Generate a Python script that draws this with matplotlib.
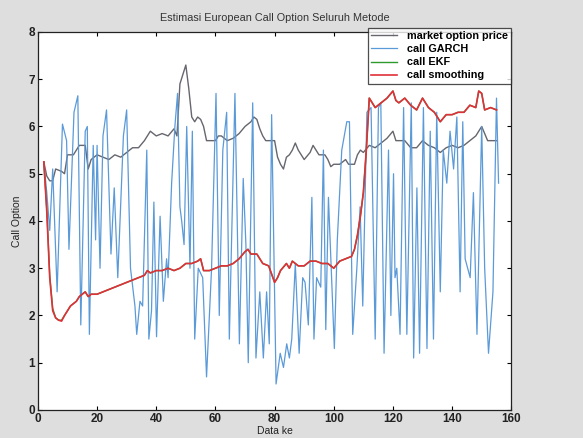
import matplotlib
matplotlib.use("Agg")
import matplotlib.pyplot as plt

plt.rcParams['font.family'] = ['Liberation Sans', 'DejaVu Sans']

# market option price
mkt_x = [2, 3, 4, 5, 6, 8, 9, 10, 12, 14, 16, 17, 18, 20, 22, 24, 26, 28, 30, 32, 34, 36, 38, 40,
         42, 44, 46, 47, 48, 49, 50, 51, 52, 53, 54, 55, 56, 57, 60, 61, 62, 64, 66, 68, 70, 72,
         73, 74, 75, 76, 77, 79, 80, 81, 82, 83, 84, 85, 86, 87, 88, 89, 90, 92, 93, 94, 95, 97,
         98, 99, 100, 102, 104, 105, 107, 108, 109, 110, 112, 114, 116, 118, 120, 121, 124, 126,
         128, 130, 132, 134, 136, 138, 140, 142, 144, 146, 148, 150, 151, 152, 155]
mkt_y = [5.25, 4.95, 4.85, 4.85, 5.1, 5.05, 5.0, 5.4, 5.4, 5.6, 5.6, 5.1, 5.3, 5.4, 5.35, 5.3,
         5.4, 5.35, 5.45, 5.55, 5.55, 5.7, 5.9, 5.8, 5.85, 5.8, 5.95, 5.8, 6.9, 7.1, 7.3, 6.8,
         6.2, 6.1, 6.2, 6.15, 6.0, 5.7, 5.7, 5.8, 5.8, 5.7, 5.75, 5.85, 6.0, 6.1, 6.2, 6.15,
         5.95, 5.8, 5.7, 5.7, 5.7, 5.35, 5.2, 5.1, 5.35, 5.4, 5.5, 5.65, 5.5, 5.4, 5.3, 5.45,
         5.6, 5.5, 5.4, 5.4, 5.3, 5.15, 5.2, 5.2, 5.3, 5.2, 5.2, 5.4, 5.5, 5.45, 5.6, 5.55,
         5.65, 5.75, 5.9, 5.7, 5.7, 5.55, 5.55, 5.7, 5.6, 5.55, 5.45, 5.55, 5.6, 5.55, 5.6,
         5.7, 5.8, 6.0, 5.85, 5.7, 5.7]

# call GARCH
garch_x = [2, 3, 4, 5, 6.5, 8.3, 9.7, 10.5, 12.2, 13.5, 14.5, 16, 16.7, 17.4, 18.7, 19.5, 20,
           21, 22, 23.2, 24.7, 25.8, 27, 28.9, 30, 31.3, 32.8, 33.4, 34.5, 35.4, 36.8, 37.5,
           38.4, 39.2, 40.1, 41.3, 42.4, 43.5, 44, 45.2, 46.3, 47.2, 48, 48.6, 49.4, 50.3, 51.4,
           52.2, 53, 54.2, 55.7, 57, 58.7, 60.2, 61.3, 62.5, 63.8, 64.7, 66.6, 68.1, 69.4, 70.3,
           71.1, 72.6, 73.7, 75, 76.2, 77.3, 78.2, 79, 80.5, 81.9, 83, 84.1, 85, 85.8, 87, 88.3,
           89.5, 90.3, 91.4, 92.6, 93.3, 94.2, 95.6, 96.5, 97.3, 98.2, 100.2, 101.2, 102.7,
           104.4, 105.3, 106.4, 107.8, 108.9, 109.8, 111.2, 112.6, 114, 115.1, 115.9, 117,
           118.5, 119.3, 120.2, 120.7, 121.3, 122.4, 123.6, 124.7, 126.2, 127, 128.1, 129,
           130.3, 131.5, 132.6, 133.7, 134.8, 136, 137, 138.2, 139.3, 140.5, 141.6, 142.7,
           143.6, 144.4, 146.1, 147.2, 148.4, 150, 151, 152.3, 153.8, 155, 155.7]
garch_y = [5.25, 4.6, 3.8, 5.1, 2.5, 6.05, 5.7, 3.4, 6.3, 6.65, 1.8, 5.9, 6.0, 1.6, 5.6, 3.6,
           5.6, 3.0, 5.8, 6.35, 3.3, 4.7, 2.8, 5.8, 6.35, 3.0, 2.2, 1.6, 2.3, 2.2, 5.5, 1.5,
           2.1, 4.4, 1.55, 4.1, 2.3, 3.2, 2.8, 4.8, 6.0, 6.7, 4.3, 4.0, 3.5, 6.0, 3.0, 5.9, 1.5,
           3.0, 2.8, 0.7, 3.0, 6.7, 2.0, 5.5, 6.3, 1.5, 6.7, 1.4, 4.9, 3.5, 1.0, 6.5, 1.1, 2.5,
           1.1, 2.5, 1.4, 6.25, 0.55, 1.2, 0.9, 1.4, 1.1, 1.5, 3.1, 1.2, 2.8, 2.7, 1.8, 4.5,
           1.5, 2.8, 2.6, 5.5, 1.7, 4.5, 1.3, 3.6, 5.5, 6.1, 6.1, 1.6, 3.0, 4.3, 2.2, 6.3, 6.4,
           1.5, 6.4, 6.5, 1.2, 5.5, 2.0, 5.0, 2.8, 3.0, 1.6, 6.4, 1.6, 6.5, 1.1, 4.7, 1.2, 6.4,
           1.3, 5.9, 1.5, 6.3, 2.5, 5.5, 4.8, 5.9, 5.1, 6.2, 2.5, 6.1, 3.2, 2.8, 4.6, 1.6, 6.0,
           3.0, 1.2, 2.5, 6.6, 4.8]

# call smoothing
smo_x = [2, 3, 4, 5, 6, 7, 8, 9, 10, 11, 12, 13, 14, 15, 16, 17, 18, 20, 22, 24, 26, 28, 30,
         32, 34, 36, 37, 38, 40, 42, 44, 46, 48, 50, 52, 54, 55, 56, 58, 60, 62, 64, 66, 68,
         70, 71, 72, 74, 76, 78, 80, 81, 82, 84, 85, 86, 88, 90, 92, 94, 96, 98, 100, 102, 104,
         106, 107, 108, 109, 110, 111, 112, 113, 114, 116, 118, 120, 121, 122, 124, 126, 128,
         130, 132, 134, 136, 138, 140, 142, 144, 146, 148, 149, 150, 151, 153, 155]
smo_y = [5.25, 4.2, 2.8, 2.1, 1.95, 1.9, 1.88, 2.0, 2.1, 2.2, 2.25, 2.3, 2.4, 2.45, 2.5, 2.4,
         2.45, 2.45, 2.5, 2.55, 2.6, 2.65, 2.7, 2.75, 2.8, 2.85, 2.95, 2.9, 2.95, 2.95, 3.0,
         2.95, 3.0, 3.1, 3.1, 3.15, 3.2, 2.95, 2.95, 3.0, 3.05, 3.05, 3.1, 3.2, 3.35, 3.4, 3.3,
         3.3, 3.1, 3.05, 2.7, 2.8, 2.95, 3.1, 3.0, 3.15, 3.05, 3.05, 3.15, 3.15, 3.1, 3.1, 3.0,
         3.15, 3.2, 3.25, 3.4, 3.7, 4.1, 4.6, 5.5, 6.6, 6.5, 6.4, 6.5, 6.6, 6.75, 6.55, 6.5,
         6.6, 6.45, 6.35, 6.6, 6.4, 6.3, 6.1, 6.25, 6.25, 6.3, 6.3, 6.45, 6.4, 6.75, 6.7,
         6.35, 6.4, 6.35]

# call EKF (almost entirely hidden beneath the smoothing line)
ekf_x = smo_x
ekf_y = [5.25, 4.25, 2.85, 2.15, 1.95, 1.9, 1.9, 2.0, 2.1, 2.2, 2.25, 2.3, 2.4, 2.45, 2.5, 2.4,
         2.45, 2.45, 2.5, 2.55, 2.6, 2.65, 2.7, 2.75, 2.8, 2.85, 2.95, 2.9, 2.95, 2.95, 3.0,
         2.95, 3.0, 3.1, 3.1, 3.15, 3.2, 2.95, 2.95, 3.0, 3.05, 3.05, 3.1, 3.2, 3.35, 3.4, 3.3,
         3.3, 3.1, 3.05, 2.7, 2.8, 2.95, 3.1, 3.0, 3.15, 3.05, 3.05, 3.15, 3.15, 3.1, 3.1, 3.0,
         3.15, 3.2, 3.25, 3.4, 3.7, 4.1, 4.6, 5.5, 6.6, 6.5, 6.4, 6.5, 6.6, 6.75, 6.55, 6.5,
         6.6, 6.45, 6.35, 6.6, 6.4, 6.3, 6.1, 6.25, 6.25, 6.3, 6.3, 6.45, 6.4, 6.75, 6.7,
         6.35, 6.4, 6.35]

labels = ["market option price", "call GARCH", "call EKF", "call smoothing"]
x_ticks = [0, 20, 40, 60, 80, 100, 120, 140, 160]
y_ticks = [0, 1, 2, 3, 4, 5, 6, 7, 8]

fig = plt.figure(figsize=(5.83, 4.38), dpi=100, facecolor="#dedede")
ax = fig.add_axes([0.065, 0.064, 0.812, 0.863])
ax.set_facecolor("white")

ax.plot(mkt_x, mkt_y, color="#66666e", lw=1.0, label=labels[0])
ax.plot(garch_x, garch_y, color="#5b9ad8", lw=0.9, label=labels[1])
ax.plot(ekf_x, ekf_y, color="#2e9a2e", lw=1.0, label=labels[2])
ax.plot(smo_x, smo_y, color="#e0303a", lw=1.2, label=labels[3])

ax.set_xlim(0, 160)
ax.set_ylim(0, 8)
ax.set_xticks(x_ticks)
ax.set_yticks(y_ticks)
ax.tick_params(direction="in", top=True, right=True, length=3, labelsize=8.5, pad=2)
for lab in ax.get_xticklabels() + ax.get_yticklabels():
    lab.set_fontweight("bold")
    lab.set_color("#222222")
for s in ax.spines.values():
    s.set_linewidth(0.9)
    s.set_color("#222222")

ax.set_title("Estimasi European Call Option Seluruh Metode", fontsize=7.8, pad=8,
             color="#333333")
ax.set_xlabel("Data ke", fontsize=7.5, labelpad=1, color="#222222")
ax.set_ylabel("Call Option", fontsize=7.5, labelpad=5, color="#222222")

leg = ax.legend(loc="upper left", bbox_to_anchor=(368 / 583, 1 - 28 / 438),
                bbox_transform=fig.transFigure,
                prop={"size": 7.8, "weight": "bold", "family": ["Liberation Sans"]},
                frameon=True, fancybox=False,
                borderpad=0.3, labelspacing=0.28, handlelength=2.4, handletextpad=0.9,
                borderaxespad=0)
leg.get_frame().set_edgecolor("#222222")
leg.get_frame().set_linewidth(0.9)

fig.savefig("out.png", dpi=100, facecolor=fig.get_facecolor())
